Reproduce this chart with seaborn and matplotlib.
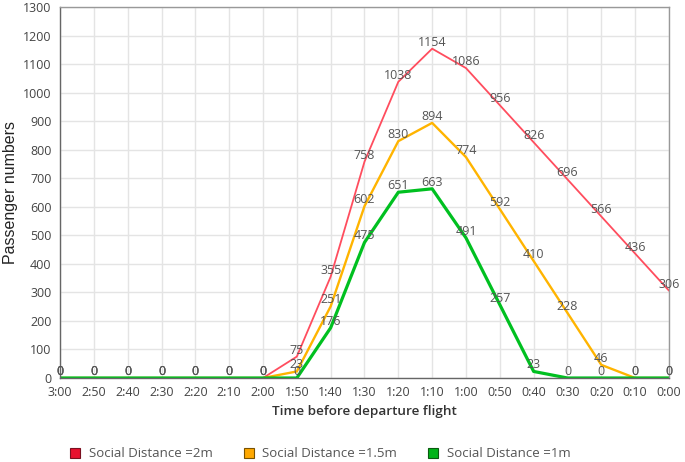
import pandas as pd
import matplotlib
matplotlib.use("Agg")
import matplotlib.pyplot as plt
import seaborn as sns
from matplotlib.lines import Line2D

# Time before departure (x categories)
times = ["3:00", "2:50", "2:40", "2:30", "2:20", "2:10", "2:00", "1:50", "1:40", "1:30",
         "1:20", "1:10", "1:00", "0:50", "0:40", "0:30", "0:20", "0:10", "0:00"]
sd_2m = [0, 0, 0, 0, 0, 0, 0, 75, 355, 758, 1038, 1154, 1086, 956, 826, 696, 566, 436, 306]
sd_15m = [0, 0, 0, 0, 0, 0, 0, 23, 251, 602, 830, 894, 774, 592, 410, 228, 46, 0, 0]
sd_1m = [0, 0, 0, 0, 0, 0, 0, 0, 176, 475, 651, 663, 491, 257, 23, 0, 0, 0, 0]
series_names = ["Social Distance =2m", "Social Distance =1.5m", "Social Distance =1m"]
colors = ["#ff4d5e", "#ffb400", "#00c020"]
legend_colors = ["#e8102e", "#ffa800", "#00b418"]
edges = ["#7a1020", "#7a5200", "#0a5a10"]
widths = [1.3, 1.7, 2.3]

rows = []
for name, vals in zip(series_names, [sd_2m, sd_15m, sd_1m]):
    for i, v in enumerate(vals):
        rows.append({"pos": i, "time": times[i], "value": v, "series": name})
df = pd.DataFrame(rows)

sns.set_theme(style="white")
plt.rcParams["font.family"] = ["Open Sans", "DejaVu Sans"]

fig = plt.figure(figsize=(6.85, 4.62), dpi=100)
ax = fig.add_axes([0.0876, 0.1818, 0.889, 0.803])

for name, col, lw in zip(series_names, colors, widths):
    sub = df[df["series"] == name]
    sns.lineplot(data=sub, x="pos", y="value", color=col, linewidth=lw, ax=ax,
                 sort=False, legend=False)

# data labels
for name in series_names:
    sub = df[df["series"] == name]
    for _, r in sub.iterrows():
        ax.annotate(str(r["value"]), (r["pos"], r["value"]), xytext=(0, 0),
                    textcoords="offset points", ha="center", va="bottom",
                    fontsize=9, color="#555555")

ax.set_xlim(0, len(times) - 1)
ax.set_ylim(0, 1300)
ax.set_xticks(range(len(times)))
ax.set_xticklabels(times)
ax.set_yticks(range(0, 1301, 100))
ax.grid(True, color="#e4e4e4", linewidth=1)
ax.set_axisbelow(True)
for side, s in ax.spines.items():
    s.set_color("#666666" if side in ("left", "bottom") else "#999999")
    s.set_linewidth(1)
ax.tick_params(axis="both", labelsize=9, colors="#444444", length=0, pad=6)
ax.set_xlabel("Time before departure flight", fontsize=9.7, fontweight="semibold",
              color="#333333", labelpad=4)
ax.set_ylabel("Passenger numbers", fontsize=11.5, family=["Liberation Sans", "DejaVu Sans"],
              color="#222222", labelpad=4)

handles = [Line2D([0], [0], marker="s", linestyle="none", markersize=7,
                  markerfacecolor=c, markeredgecolor=e, markeredgewidth=0.8)
           for c, e in zip(legend_colors, edges)]
fig.legend(handles, series_names, loc="center left", bbox_to_anchor=(0.102, 0.018), ncol=3,
           frameon=False, fontsize=9.5, handlelength=0.75, handletextpad=0.68,
           columnspacing=2.35, borderpad=0, borderaxespad=0, labelcolor="#555555")

fig.savefig("out.png", dpi=100)
